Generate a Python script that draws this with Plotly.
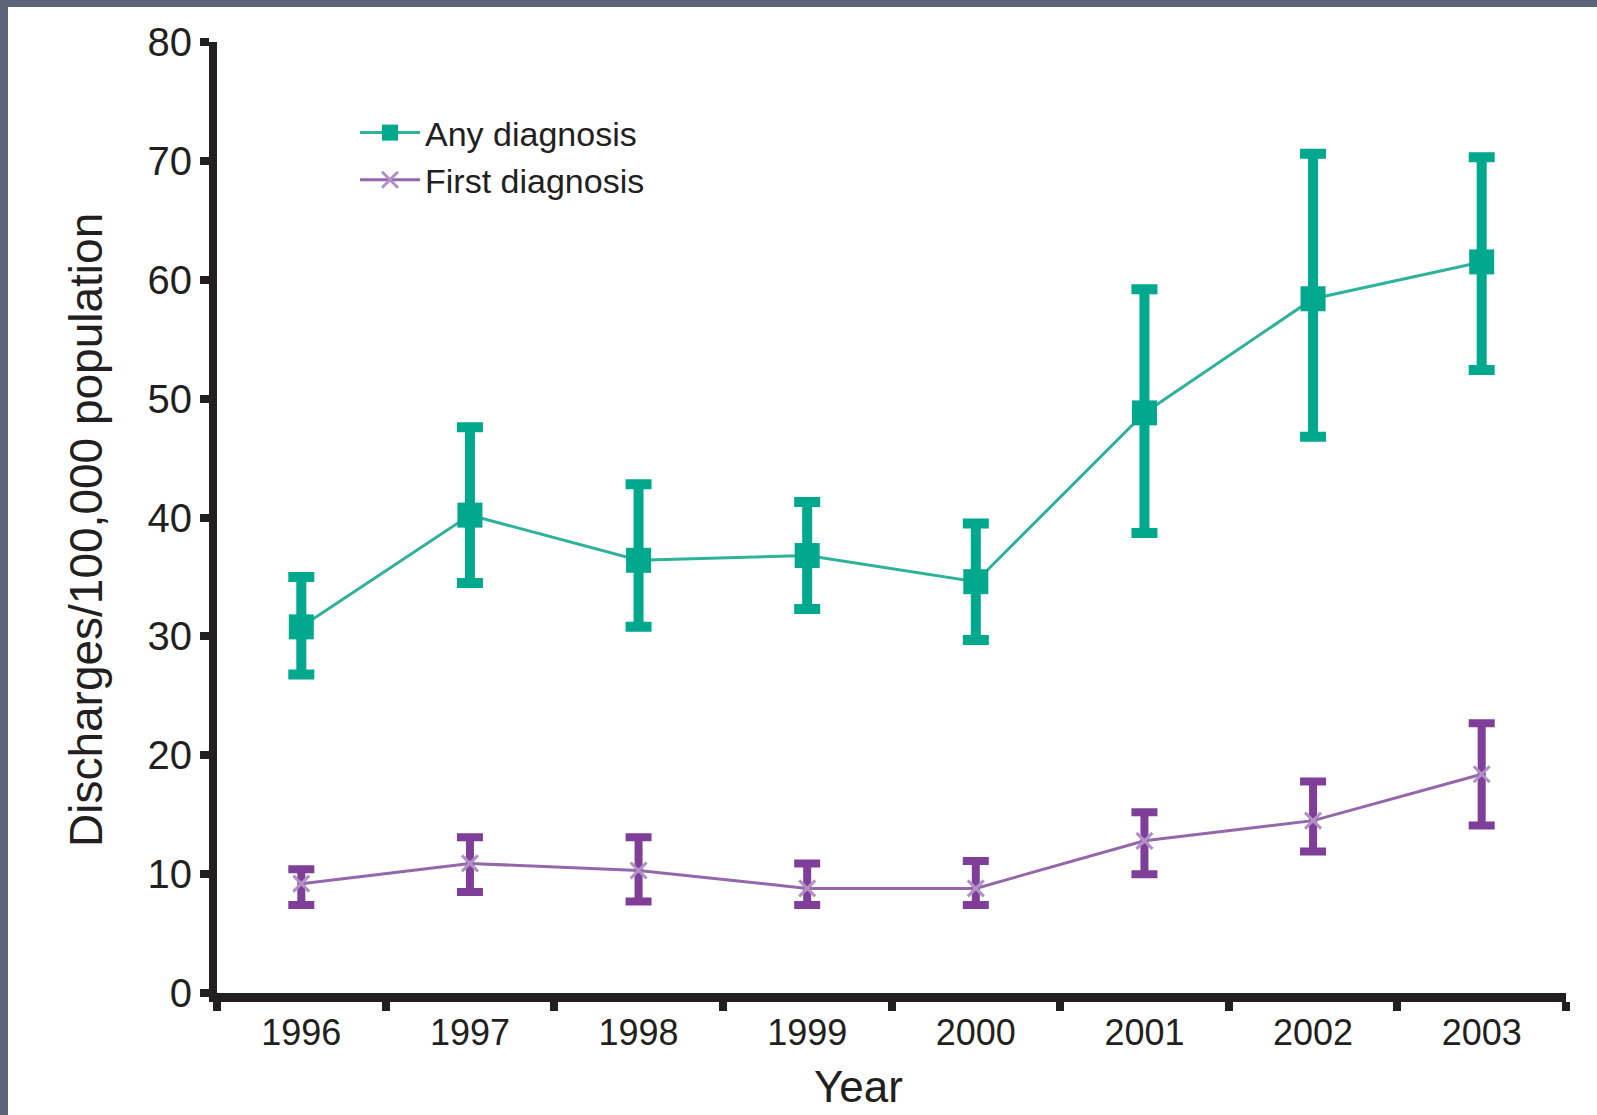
import plotly.graph_objects as go

years = ["1996", "1997", "1998", "1999", "2000", "2001", "2002", "2003"]
any_dx = [30.8, 40.2, 36.4, 36.8, 34.6, 48.8, 58.4, 61.5]
any_hi = [35.0, 47.6, 42.8, 41.3, 39.5, 59.2, 70.6, 70.3]
any_lo = [26.8, 34.5, 30.8, 32.3, 29.7, 38.7, 46.8, 52.4]
first_dx = [9.2, 10.9, 10.3, 8.8, 8.8, 12.8, 14.5, 18.4]
first_hi = [10.4, 13.1, 13.1, 10.9, 11.1, 15.2, 17.8, 22.7]
first_lo = [7.4, 8.5, 7.7, 7.4, 7.4, 10.0, 11.9, 14.1]
y_ticks = [0, 10, 20, 30, 40, 50, 60, 70, 80]

TEAL = "#00a88d"
PURPLE = "#7f3f98"
INK = "#231f20"
FONT = "Liberation Sans, Arial, sans-serif"

W, H = 1597, 1115
ML, MR, MT, MB = 217, 31, 42, 122

fig = go.Figure()
fig.add_trace(go.Scatter(
    x=years, y=any_dx, name="Any diagnosis", mode="lines+markers",
    line=dict(color="#2fb29b", width=3),
    marker=dict(symbol="square", size=25, color=TEAL),
    error_y=dict(type="data", symmetric=False,
                 array=[h - v for h, v in zip(any_hi, any_dx)],
                 arrayminus=[v - l for v, l in zip(any_dx, any_lo)],
                 color=TEAL, thickness=10, width=13),
))
fig.add_trace(go.Scatter(
    x=years, y=first_dx, name="First diagnosis", mode="lines+markers",
    line=dict(color="#9467ab", width=3),
    marker=dict(symbol="x-thin", size=16, color="#b28fc4",
                line=dict(color="#b28fc4", width=3)),
    error_y=dict(type="data", symmetric=False,
                 array=[h - v for h, v in zip(first_hi, first_dx)],
                 arrayminus=[v - l for v, l in zip(first_dx, first_lo)],
                 color=PURPLE, thickness=8, width=13),
))

pw = W - ML - MR
ph = H - MT - MB


def px_x(p):
    return (p - ML) / pw


def px_y(p):
    return (H - MB - p) / ph


BORDER = "#5c6379"
fig.add_shape(type="rect", xref="paper", yref="paper",
              x0=px_x(0), x1=px_x(W), y0=px_y(7), y1=px_y(0),
              fillcolor=BORDER, line_width=0, layer="above")
fig.add_shape(type="rect", xref="paper", yref="paper",
              x0=px_x(0), x1=px_x(8), y0=px_y(H), y1=px_y(0),
              fillcolor=BORDER, line_width=0, layer="above")

fig.add_annotation(text="Year", xref="paper", yref="paper",
                   x=px_x(858), y=px_y(1086), xanchor="center", yanchor="middle",
                   showarrow=False, font=dict(family=FONT, size=44, color=INK))
fig.add_annotation(text="Discharges/100,000 population", xref="paper", yref="paper",
                   x=px_x(86), y=px_y(530), xanchor="center", yanchor="middle",
                   textangle=-90, showarrow=False,
                   font=dict(family=FONT, size=46, color=INK))

fig.update_layout(
    width=W, height=H,
    margin=dict(l=ML, r=MR, t=MT, b=MB, autoexpand=False),
    paper_bgcolor="white", plot_bgcolor="white",
    font=dict(family=FONT, color=INK),
    showlegend=True,
    legend=dict(x=px_x(355), y=px_y(104), xanchor="left", yanchor="top",
                font=dict(family=FONT, size=34, color=INK),
                bgcolor="rgba(0,0,0,0)", itemwidth=60, tracegroupgap=0),
    xaxis=dict(type="category", range=[-0.5, 7.5], showgrid=False, zeroline=False,
               showline=True, linecolor=INK, linewidth=9,
               ticks="outside", tickson="boundaries", ticklen=9, tickwidth=8,
               tickcolor=INK,
               tickfont=dict(family=FONT, size=36, color=INK)),
    yaxis=dict(range=[0, 80], tickvals=y_ticks, showgrid=False, zeroline=False,
               showline=True, linecolor=INK, linewidth=8,
               ticks="outside", ticklen=9, tickwidth=8, tickcolor=INK,
               tickfont=dict(family=FONT, size=40, color=INK)),
)

fig.write_html("out.html", config={"displayModeBar": False},
               post_script="document.body.style.margin='0';")
